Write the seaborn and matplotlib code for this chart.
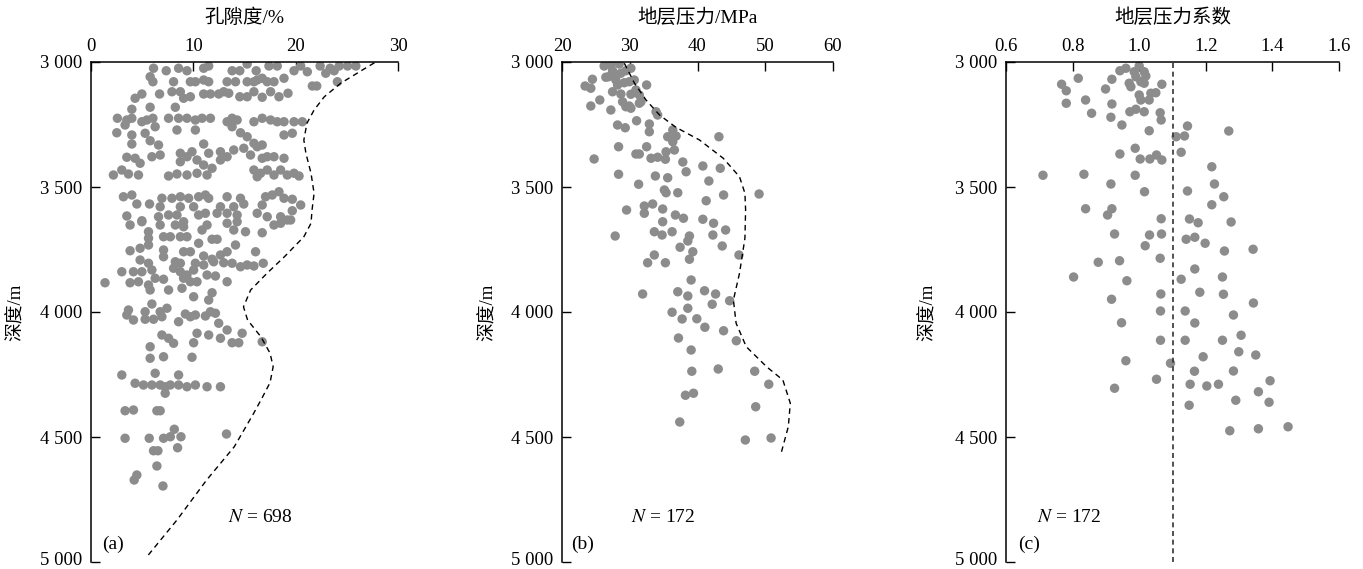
import matplotlib
matplotlib.use("Agg")
import matplotlib.pyplot as plt
from matplotlib.transforms import ScaledTranslation
import pandas as pd
import seaborn as sns

# ---------------- data ----------------
depth_ticks = [3000, 3500, 4000, 4500, 5000]
depth_labels = ["3 000", "3 500", "4 000", "4 500", "5 000"]

por_ticks = [0, 10, 20, 30]
pres_ticks = [20, 30, 40, 50, 60]
coef_ticks = [0.6, 0.8, 1.0, 1.2, 1.4, 1.6]
coef_labels = ["0.6", "0.8", "1.0", "1.2", "1.4", "1.6"]

titles = ["孔隙度/%", "地层压力/MPa", "地层压力系数"]
ylabel_text = "深度/m"
counts = [698, 172, 172]
panel_tags = ["(a)", "(b)", "(c)"]

# (a) porosity (%) vs depth (m)
por_value = [
    6.11, 7.35, 8.56, 9.38, 11.01, 11.50, 13.79, 14.54, 15.26, 16.14, 17.39, 18.20, 19.84, 20.49, 21.14, 22.39, 22.94, 23.37, 23.76, 24.25, 25.07, 25.88,
    5.78, 6.05, 8.07, 9.71, 10.20, 11.01, 11.50, 13.30, 14.12, 15.26, 15.92, 16.24, 16.73, 17.22, 17.88, 18.86, 21.63, 22.06, 24.08,
    4.97, 4.31, 6.70, 7.91, 8.73, 9.05, 9.71, 11.01, 11.67, 12.48, 12.97, 13.46, 14.54, 15.26, 15.92, 16.73, 17.55, 18.37, 19.25,
    3.99, 5.78, 8.24,
    2.58, 3.50, 3.99, 4.97, 5.46, 6.05, 7.58, 8.56, 9.38, 10.20, 10.85, 11.67, 13.30, 13.79, 14.28, 15.92, 16.73, 17.55, 18.20, 18.86, 19.84, 20.65,
    2.52, 3.33, 6.27, 8.40, 10.20, 13.79, 14.61, 15.26, 18.86, 19.67, 3.99, 5.29,
    3.99, 5.78, 6.60, 11.01, 15.92, 16.73,
    3.50, 4.31, 4.80, 5.95, 6.76, 8.73, 9.38, 9.87, 10.36, 11.50, 12.65, 13.30, 13.95, 14.93, 15.59, 16.24, 16.73, 17.22, 17.88, 18.86, 12.65, 8.73,
    2.19, 3.01, 3.66, 4.64, 7.58, 8.40, 9.38, 10.36, 11.01, 11.83, 11.34, 15.92, 16.57, 17.22, 17.88, 18.53, 19.18, 19.84, 20.33, 16.24,
    3.17, 3.99, 4.48, 5.72, 6.93, 7.91, 8.73, 9.54, 10.52, 11.18, 11.50, 13.30, 14.61, 14.93, 17.06, 17.71, 18.37, 18.86, 19.67, 20.49, 16.73, 13.95, 12.65, 10.03, 8.73, 6.76,
    3.50, 4.97, 6.60, 7.58, 8.40, 9.05, 10.52, 11.18, 12.32, 13.30, 14.28, 16.24, 17.22, 18.53, 19.18, 19.67,
    3.82, 4.97, 6.76, 8.24, 9.05, 10.85, 11.34, 13.30, 14.28, 15.10, 16.73, 17.88, 18.53, 19.51, 13.95,
    5.62, 5.62, 5.62, 7.09, 7.75, 8.73, 9.38, 10.52, 11.83, 12.32, 14.12,
    16.08, 3.82, 4.80, 7.09, 7.09, 9.05, 9.71, 11.01, 11.83, 12.65, 13.30,
    4.80, 5.62, 8.24, 8.73, 8.07, 10.20, 11.01, 11.99, 12.97, 13.79, 14.61, 15.26, 15.92, 16.83,
    3.01, 4.15, 4.97, 5.95, 8.73, 9.38, 10.03, 11.34, 12.16, 13.30, 6.27, 7.09, 9.05, 10.36,
    1.37, 3.82, 4.64, 5.62, 5.78, 7.58, 8.89, 9.71,
    10.03, 11.83, 11.50, 5.95, 3.66, 3.50, 4.15, 5.29, 5.29, 6.11, 6.93, 7.42, 6.76, 8.56, 9.22, 9.71, 10.20, 11.18, 11.67, 12.16,
    6.93, 7.58, 8.07, 5.78, 10.36, 11.50, 12.48, 12.65, 13.30, 13.79, 14.44, 14.77, 16.73, 10.03,
    5.78, 7.09, 9.87,
    3.01, 6.27, 8.56, 4.31, 5.13, 5.95, 6.76, 7.25, 7.75, 8.56, 9.38, 10.20, 11.34, 12.65, 7.25,
    3.33, 4.15, 6.44, 6.76, 3.33, 5.69, 7.09, 7.75, 8.14, 8.79, 13.24, 6.11, 6.54, 8.46, 6.44, 4.22, 4.48, 7.03,
]
por_depth = [
    3025, 3035, 3025, 3035, 3025, 3016, 3035, 3035, 3008, 3035, 3016, 3016, 3035, 3016, 3039, 3016, 3045, 3025, 3035, 3016, 3016, 3016,
    3059, 3079, 3079, 3079, 3079, 3072, 3079, 3079, 3079, 3079, 3079, 3072, 3065, 3079, 3079, 3065, 3096, 3096, 3079,
    3128, 3145, 3128, 3119, 3119, 3145, 3139, 3128, 3128, 3128, 3119, 3125, 3139, 3139, 3119, 3141, 3119, 3139, 3125,
    3189, 3181, 3181,
    3225, 3232, 3225, 3239, 3232, 3225, 3225, 3225, 3225, 3232, 3225, 3225, 3239, 3225, 3232, 3239, 3225, 3232, 3239, 3239, 3239, 3239,
    3283, 3252, 3259, 3272, 3272, 3259, 3283, 3299, 3292, 3285, 3292, 3285,
    3328, 3315, 3332, 3328, 3325, 3332,
    3381, 3385, 3405, 3379, 3372, 3365, 3379, 3359, 3392, 3365, 3359, 3379, 3352, 3345, 3372, 3339, 3385, 3379, 3379, 3385, 3392, 3399,
    3452, 3432, 3448, 3452, 3456, 3448, 3452, 3445, 3412, 3425, 3452, 3432, 3445, 3432, 3452, 3432, 3452, 3445, 3456, 3459,
    3539, 3532, 3568, 3568, 3545, 3545, 3539, 3545, 3539, 3532, 3545, 3539, 3545, 3568, 3539, 3532, 3519, 3545, 3549, 3572, 3572, 3579, 3579, 3579, 3579, 3579,
    3616, 3635, 3619, 3612, 3612, 3639, 3612, 3605, 3605, 3605, 3612, 3605, 3619, 3619, 3632, 3595,
    3652, 3639, 3652, 3652, 3659, 3672, 3652, 3645, 3639, 3679, 3683, 3652, 3645, 3632, 3672,
    3679, 3705, 3732, 3699, 3699, 3699, 3699, 3725, 3709, 3709, 3732,
    3759, 3755, 3745, 3752, 3779, 3759, 3759, 3776, 3789, 3772, 3759,
    3792, 3805, 3799, 3805, 3825, 3805, 3812, 3799, 3803, 3805, 3819, 3812, 3816, 3805,
    3839, 3839, 3839, 3832, 3839, 3852, 3832, 3852, 3856, 3879, 3865, 3869, 3865, 3879,
    3883, 3883, 3879, 3892, 3912, 3912, 3905, 3879,
    3939, 3923, 3952, 3968, 3992, 4012, 4032, 3999, 4029, 4029, 4019, 3985, 3999, 4039, 4008, 4019, 4012, 4016, 3999, 4005,
    4092, 4105, 4125, 4139, 4085, 4092, 4045, 4105, 4072, 4123, 4123, 4085, 4119, 4123,
    4185, 4179, 4181,
    4252, 4245, 4252, 4285, 4292, 4292, 4292, 4299, 4292, 4292, 4299, 4292, 4299, 4299, 4325,
    4395, 4392, 4395, 4395, 4505, 4505, 4505, 4499, 4469, 4499, 4488, 4555, 4555, 4543, 4616, 4672, 4652, 4696,
]
por_curve_value = [27.7, 26.4, 24.4, 22.8, 21.8, 21.1, 20.8, 21.0, 21.5, 21.8, 21.6, 21.5, 20.8, 18.9, 17.2,
                   15.6, 14.9, 15.3, 16.6, 17.5, 17.8, 17.5, 16.7, 15.9, 14.0, 11.3, 8.4, 5.6]
por_curve_depth = [3003, 3035, 3085, 3139, 3192, 3245, 3312, 3365, 3445, 3525, 3592, 3645, 3699, 3779, 3845,
                   3912, 3979, 4032, 4099, 4165, 4219, 4282, 4345, 4405, 4539, 4672, 4832, 4972]

# (b) formation pressure (MPa) vs depth (m)
pres_value = [
    26.22, 27.21, 28.44, 27.46, 26.86, 27.95, 28.69, 29.43, 30.17, 24.49,
    23.41, 24.25, 26.47, 27.95, 28.20, 29.19, 29.93, 30.67, 32.49, 27.46,
    28.69, 30.17, 30.91, 31.41, 25.58, 24.25, 28.94, 29.43, 29.93, 31.41,
    31.65, 27.21, 30.17, 33.88, 34.12, 31.01, 28.20, 29.33, 32.89, 32.89,
    36.35, 36.84, 35.60, 36.35, 43.16, 28.35, 32.49, 36.59, 35.36, 30.91,
    31.41, 33.14, 34.12, 35.26, 24.74, 37.83, 38.32, 40.79, 43.36, 28.35,
    33.78, 35.60, 41.68, 31.31, 35.11, 35.36, 37.09, 43.85, 49.09, 41.28,
    32.15, 33.38, 34.86, 29.53, 32.15, 36.74, 37.93, 34.86, 40.79, 42.37,
    44.15, 33.63, 34.77, 36.25, 27.85, 38.81, 42.27,
    38.57, 37.43, 43.65, 39.31, 33.63, 32.64, 35.26, 38.81, 46.12, 39.06,
    31.90, 37.09, 38.57, 41.04, 42.67, 44.74, 42.17, 38.57, 36.25, 37.73,
    39.90, 41.09, 43.85, 45.73, 37.19, 39.06, 39.16, 43.06, 48.44, 50.52,
    38.22, 39.41, 48.59, 37.38, 47.06, 50.86,
]
pres_depth = [
    3016, 3012, 3008, 3035, 3059, 3052, 3045, 3035, 3025, 3069,
    3096, 3105, 3061, 3072, 3092, 3083, 3079, 3072, 3092, 3119,
    3128, 3129, 3112, 3132, 3152, 3176, 3159, 3179, 3176, 3165,
    3159, 3192, 3185, 3199, 3212, 3235, 3252, 3263, 3248, 3279,
    3272, 3296, 3299, 3319, 3299, 3339, 3339, 3352, 3359, 3368,
    3368, 3385, 3381, 3389, 3388, 3400, 3439, 3416, 3425, 3449,
    3456, 3463, 3476, 3489, 3512, 3523, 3523, 3532, 3528, 3555,
    3576, 3568, 3588, 3592, 3605, 3612, 3625, 3639, 3629, 3645,
    3672, 3679, 3692, 3679, 3696, 3696, 3692,
    3716, 3741, 3736, 3759, 3772, 3803, 3803, 3789, 3772, 3872,
    3928, 3919, 3936, 3915, 3928, 3955, 3969, 3985, 4001, 4028,
    4027, 4061, 4075, 4115, 4104, 4152, 4237, 4228, 4237, 4289,
    4333, 4325, 4379, 4440, 4512, 4504,
]
pres_curve_value = [29.2, 30.7, 32.4, 34.4, 36.8, 40.3, 43.8, 46.2, 47.0, 47.1, 47.0, 46.2, 45.3, 45.7,
                    47.2, 50.2, 52.6, 53.7, 53.4, 52.4]
pres_curve_depth = [3005, 3085, 3152, 3212, 3261, 3312, 3385, 3459, 3525, 3592, 3705, 3845, 3952, 4045,
                    4139, 4219, 4272, 4365, 4459, 4559]

# (c) pressure coefficient vs depth (m)
coef_value = [
    1.000, 0.960, 0.942, 0.985, 1.015, 1.020, 0.990, 1.005, 0.817, 0.767,
    0.781, 0.918, 0.899, 0.970, 0.975, 1.015, 1.068, 1.000, 1.035, 1.050,
    1.005, 1.030, 0.781, 0.839, 0.918, 0.857, 0.915, 0.972, 0.990, 1.015,
    1.063, 1.066, 0.948, 1.145, 1.030, 1.269, 1.111, 1.136, 1.126, 0.988,
    0.942, 1.003, 1.032, 1.052, 1.068, 1.218, 0.711, 0.834, 0.988, 0.915,
    1.226, 1.016, 1.145, 1.254, 1.218, 0.839, 0.918, 0.905, 1.066, 1.151,
    1.177, 1.276,
    0.926, 1.031, 1.067, 1.141, 1.167, 1.198, 1.018, 1.256, 1.342, 0.877,
    0.941, 1.063, 1.167, 0.803, 0.963, 1.126, 1.250, 0.917, 1.065, 1.182,
    1.253, 1.343, 1.064, 1.138, 1.283, 0.947, 1.167, 1.064, 1.138, 1.250,
    1.306, 1.299, 1.350, 1.192, 0.960, 1.094, 1.166, 1.283, 1.052, 1.153,
    1.203, 1.238, 1.393, 0.926, 1.358, 1.290, 1.390, 1.150, 1.272, 1.358,
    1.447,
]
coef_depth = [
    3016, 3025, 3035, 3039, 3039, 3056, 3059, 3079, 3065, 3089,
    3115, 3069, 3108, 3085, 3099, 3085, 3089, 3132, 3125, 3123,
    3152, 3152, 3165, 3152, 3168, 3205, 3221, 3199, 3189, 3199,
    3203, 3232, 3252, 3256, 3275, 3276, 3299, 3296, 3361, 3345,
    3368, 3388, 3388, 3372, 3392, 3419, 3453, 3449, 3453, 3488,
    3488, 3519, 3516, 3539, 3571, 3587, 3587, 3612, 3627, 3628,
    3643, 3640,
    3688, 3692, 3688, 3709, 3701, 3725, 3735, 3756, 3749, 3801,
    3795, 3785, 3828, 3860, 3875, 3869, 3860, 3949, 3928, 3921,
    3929, 3964, 3996, 3996, 4012, 4043, 4044, 4113, 4113, 4113,
    4093, 4159, 4172, 4179, 4195, 4205, 4237, 4236, 4269, 4289,
    4296, 4289, 4275, 4305, 4319, 4353, 4361, 4373, 4475, 4467,
    4459,
]
coef_reference = [1.1]

# ---------------- styling ----------------
sns.set_theme(style="ticks")
plt.rcParams["font.family"] = ["Liberation Serif", "Noto Sans CJK SC"]
plt.rcParams["mathtext.fontset"] = "stix"
plt.rcParams["axes.unicode_minus"] = False

W, H = 1363, 569
fig = plt.figure(figsize=(W / 100, H / 100), dpi=100)
fig.patch.set_facecolor("white")

PT_COLOR = "#8c8c8c"


def make_ax(x0, x1):
    return fig.add_axes([x0 / W, 1 - 562 / H, (x1 - x0) / W, 500 / H])


ax_a = make_ax(91, 398)
ax_b = make_ax(562, 833)
ax_c = make_ax(1006, 1339)

df_a = pd.DataFrame({"value": por_value, "depth": por_depth})
df_b = pd.DataFrame({"value": pres_value, "depth": pres_depth})
df_c = pd.DataFrame({"value": coef_value, "depth": coef_depth})

for ax, df in [(ax_a, df_a), (ax_b, df_b), (ax_c, df_c)]:
    sns.scatterplot(data=df, x="value", y="depth", ax=ax, color=PT_COLOR,
                    s=46, edgecolor="none", linewidth=0, zorder=2)

sns.lineplot(x=por_curve_value, y=por_curve_depth, ax=ax_a, sort=False, estimator=None,
             color="black", linewidth=1.0, linestyle=(0, (4, 3)), zorder=3)
sns.lineplot(x=pres_curve_value, y=pres_curve_depth, ax=ax_b, sort=False, estimator=None,
             color="black", linewidth=1.0, linestyle=(0, (4, 3)), zorder=3)
ax_c.axvline(coef_reference[0], color="#333333", linewidth=1.2,
             linestyle=(0, (3, 2.2)), zorder=3)

configs = [
    (ax_a, (0, 30), por_ticks, [str(t) for t in por_ticks], -0.215, 0.55),
    (ax_b, (20, 60), pres_ticks, [str(t) for t in pres_ticks], -0.24, 0.371),
    (ax_c, (0.6, 1.6), coef_ticks, coef_labels, -0.207, 0.19),
]

for i, (ax, xlim, xt, xtl, ylab_x, n_x) in enumerate(configs):
    ax.set_facecolor("white")
    ax.set_xlim(*xlim)
    ax.set_ylim(5000, 3000)
    ax.xaxis.tick_top()
    ax.set_xticks(xt)
    ax.set_xticklabels(xtl)
    ax.set_yticks(depth_ticks)
    ax.set_yticklabels(depth_labels)
    ax.set_xlabel("")
    ax.set_ylabel(ylabel_text, fontsize=13.5, color="black")
    ax.yaxis.set_label_coords(ylab_x, 0.5)
    for s in ["right", "bottom"]:
        ax.spines[s].set_visible(False)
    for s in ["left", "top"]:
        ax.spines[s].set_linewidth(1.1)
        ax.spines[s].set_color("black")
    ax.tick_params(axis="both", direction="in", length=6.5, width=1.0,
                   labelsize=13.5, colors="black")
    ax.tick_params(axis="x", pad=5, top=True, bottom=False, labeltop=True, labelbottom=False)
    ax.tick_params(axis="y", pad=6.5)
    ax.grid(False)
    # nudge the bottom depth label up slightly so it stays inside the canvas
    last = ax.get_yticklabels()[-1]
    last.set_transform(last.get_transform() + ScaledTranslation(0, 2.5 / 72, fig.dpi_scale_trans))
    ax.text(n_x, 0.09, r"$N$" + " = " + str(counts[i]), transform=ax.transAxes,
            ha="center", va="center", fontsize=14, color="black")
    ax.text(0.035, 0.035, panel_tags[i], transform=ax.transAxes,
            ha="left", va="center", fontsize=14, color="black")
    bbox = ax.get_position()
    fig.text((bbox.x0 + bbox.x1) / 2, 1 - 18 / H, titles[i], ha="center", va="center",
             fontsize=14, color="black")

fig.savefig("out.png", dpi=100, facecolor="white")
